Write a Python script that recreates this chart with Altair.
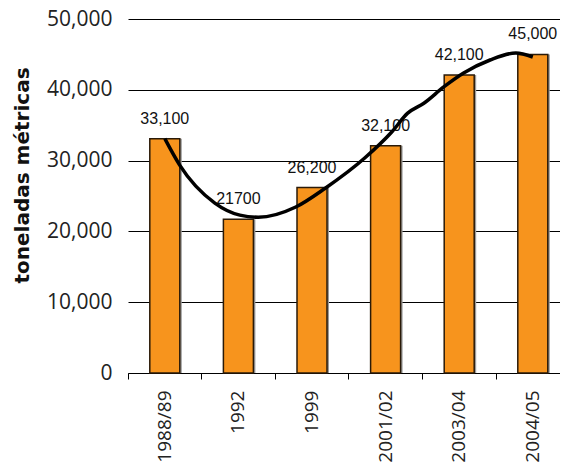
import altair as alt
import pandas as pd

categories = ["1988/89", "1992", "1999", "2001/02", "2003/04", "2004/05"]
values = [33100, 21700, 26200, 32100, 42100, 45000]
labels = ["33,100", "21700", "26,200", "32,100", "42,100", "45,000"]

# trend curve (position in category units, value)
trend_pos = [0.0, 0.2, 0.68, 1.02, 1.27, 1.78, 2.18, 2.72, 3.08, 3.3, 3.52, 3.79, 4.06, 4.42, 4.77, 5.0]
trend_val = [33100, 29400, 24000, 22300, 22000, 23450, 26100, 30400, 34000, 36700, 38100, 40400, 42370, 44210, 45200, 44630]

bars_df = pd.DataFrame({"cat": categories, "val": values, "label": labels})
trend_df = pd.DataFrame({"pos": trend_pos, "val": trend_val})

X_RANGE = [0, 441.6]
y_scale = alt.Scale(domain=[0, 50000], nice=False)
x_scale = alt.Scale(paddingInner=0, paddingOuter=0, range=X_RANGE)

x_axis = alt.Axis(
    title=None,
    labelAngle=-90,
    labelFont="Open Sans",
    labelFontSize=19,
    labelColor="#222222",
    labelPadding=11,
    tickSize=6,
    tickColor="black",
    domainColor="black",
    domainWidth=1,
    bandPosition=0,
    grid=False,
)
x_enc = alt.X("cat:N", sort=categories, scale=x_scale, axis=x_axis)

y_enc = alt.Y(
    "val:Q",
    scale=y_scale,
    axis=alt.Axis(
        values=[0, 10000, 20000, 30000, 40000, 50000],
        format=",.0f",
        title="toneladas métricas",
        titleFont="DejaVu Sans",
        titleFontSize=20,
        titleFontWeight="bold",
        titleColor="#111111",
        titleBaseline="alphabetic",
        titleX=-100,
        titleY=156,
        labelFont="Open Sans",
        labelFontSize=21,
        labelColor="#222222",
        labelPadding=16,
        ticks=False,
        domain=False,
        grid=True,
        gridColor="black",
        gridOpacity=1,
        gridWidth=1,
    ),
)

base = alt.Chart(bars_df)

shadow = base.mark_bar(width=30, xOffset=2, color="#9a9a9a").encode(x=x_enc, y=y_enc)
bars = base.mark_bar(width=30, color="#F7941D", stroke="#2a1a08", strokeWidth=1.5).encode(x=x_enc, y=y_enc)
text = base.mark_text(dy=-15, baseline="alphabetic", font="Liberation Sans", fontSize=16, color="#111111").encode(
    x=x_enc, y=y_enc, text="label:N"
)

line = alt.Chart(trend_df).mark_line(color="black", strokeWidth=3.5, interpolate="monotone").encode(
    x=alt.X("pos:Q", scale=alt.Scale(domain=[-0.5, 5.5], nice=False, zero=False, range=X_RANGE), axis=None),
    y=y_enc,
)

chart = (
    alt.layer(alt.layer(shadow, bars, text), line)
    .resolve_scale(x="independent")
    .properties(
        width=432,
        height=354,
        autosize=alt.AutoSizeParams(type="none"),
        padding={"left": 120, "top": 11, "right": 0, "bottom": 96},
        background="white",
    )
    .configure_view(stroke=None)
)

chart.save("out.html", embed_options={"renderer": "svg", "actions": False})
